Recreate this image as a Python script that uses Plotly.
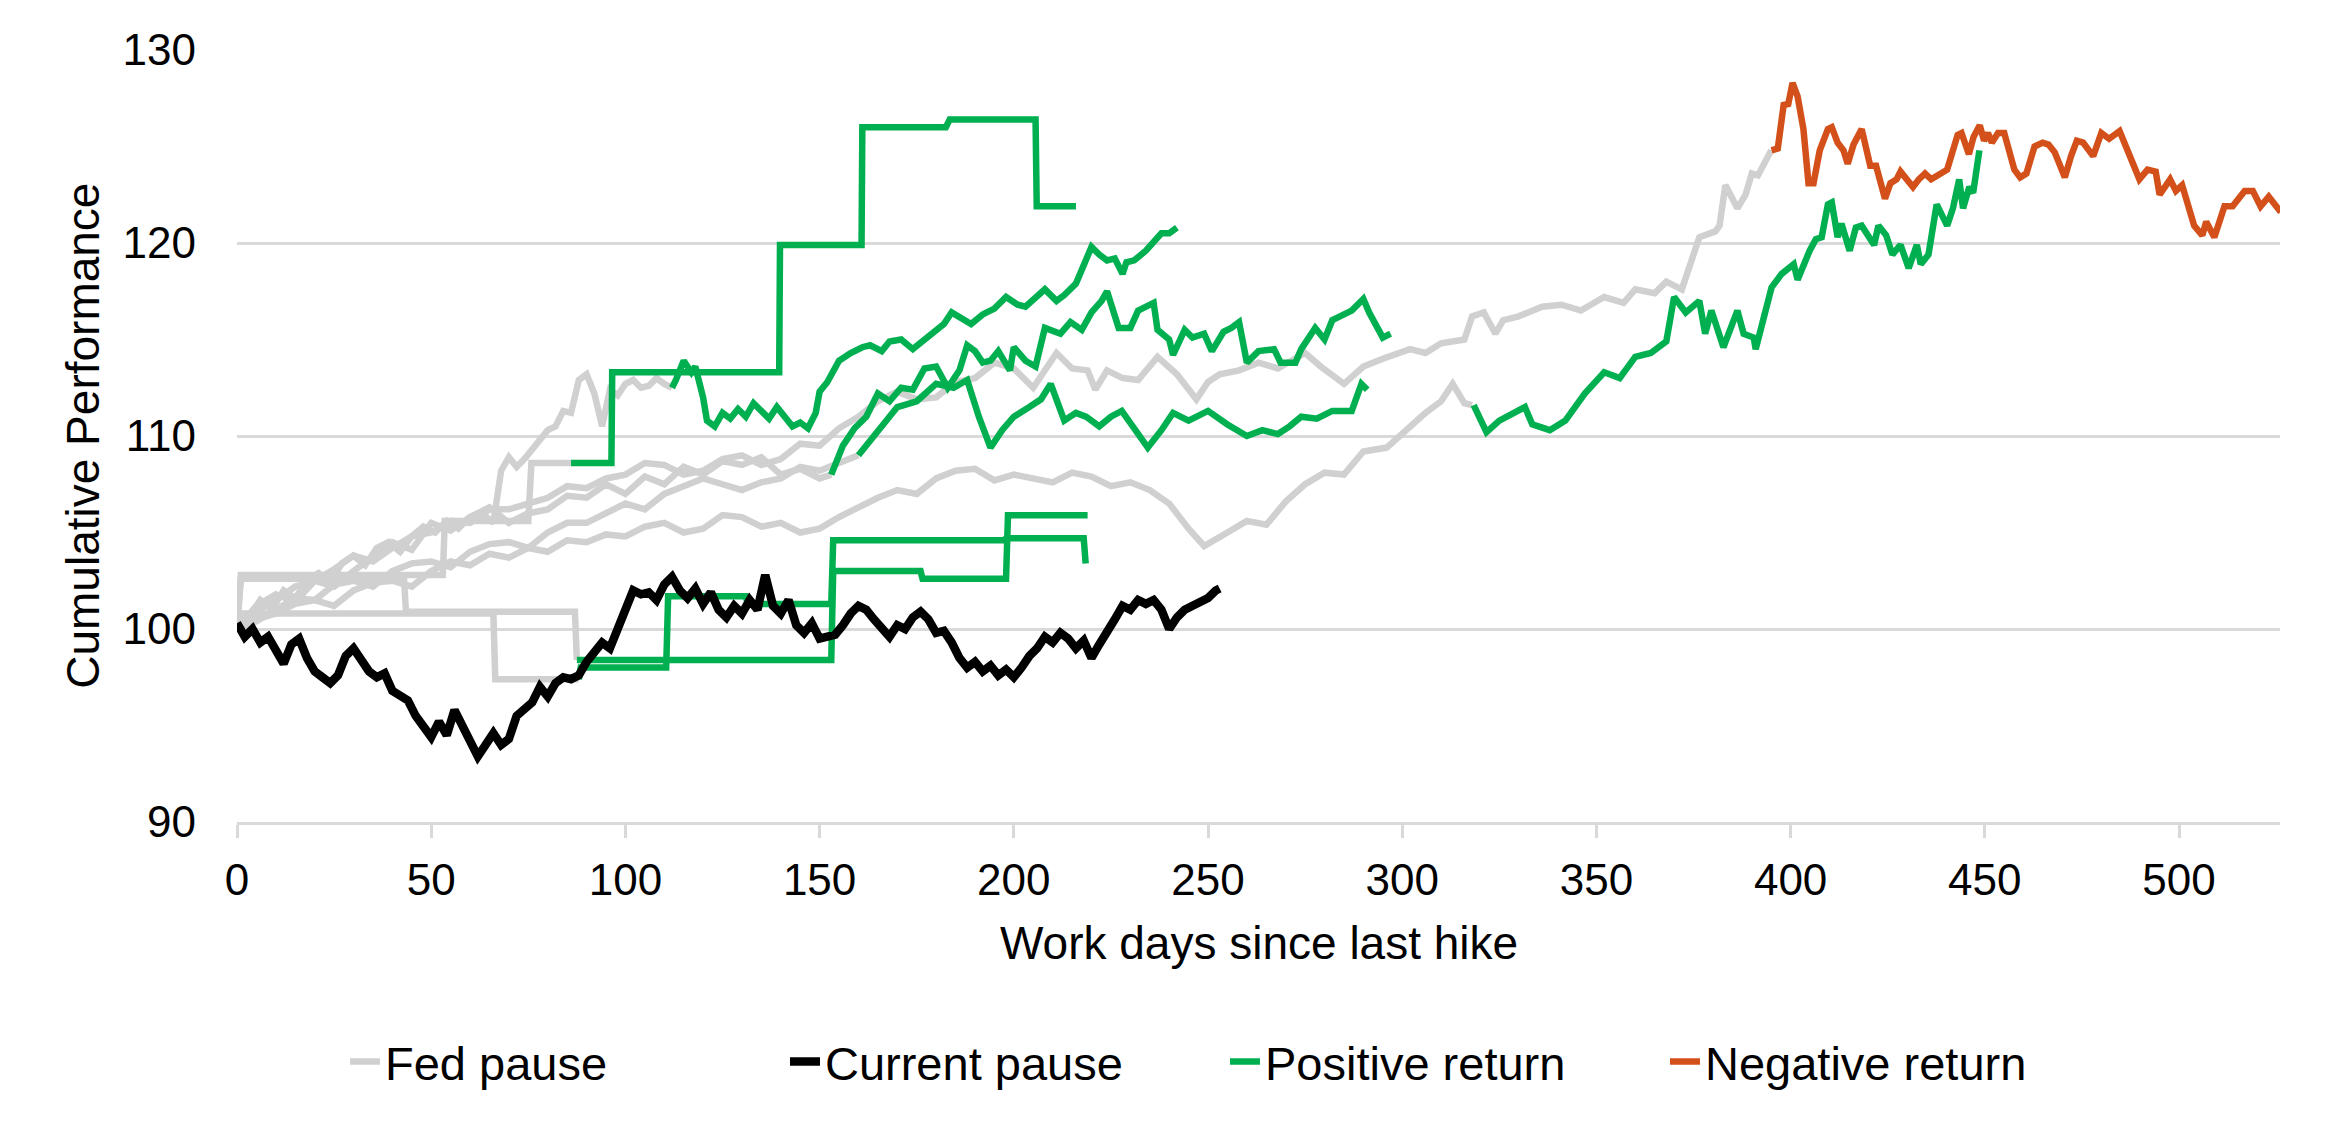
import plotly.graph_objects as go

# ---------------- data ----------------
# Current pause (black)
cur_x = [0,2,4,6,8,10,12,14,16,18,20,22,24,26,28,30,32,34,36,38,40,42,44,46,48,50,52,54,56,58,60,62,64,66,68,70,72,74,76,78,80,82,84,86,88,90,92,94,96,98,100,102,104,106,108,110,112,114,116,118,120,122,124,126,128,130,132,134,136,138,140,142,144,146,148,150,152,154,156,158,160,162,164,166,168,170,172,174,176,178,180,182,184,186,188,190,192,194,196,198,200,202,204,206,208,210,212,214,216,218,220,222,224,226,228,230,232,234,236,238,240,242,244,246,248,250,252,253]
cur_y = [100.3,99.6,100.0,99.3,99.6,98.8,98.2,99.2,99.5,98.5,97.8,97.5,97.2,97.6,98.6,99.0,98.3,97.8,97.5,97.7,96.8,96.5,96.3,95.5,95.0,94.4,95.2,94.5,95.8,95.0,94.3,93.4,94.0,94.6,94.0,94.3,95.5,95.8,96.2,97.0,96.5,97.2,97.5,97.4,97.6,98.3,98.8,99.3,99.0,100.0,100.8,102.0,101.8,101.9,101.5,102.3,102.7,102.0,101.6,102.1,101.3,101.9,101.0,100.6,101.2,100.8,101.5,101.0,102.8,101.2,100.8,101.5,100.2,99.8,100.3,99.5,99.6,99.7,100.2,100.8,101.2,101.0,100.5,100.0,99.6,100.2,100.0,100.6,100.9,100.5,99.8,99.9,99.3,98.5,98.0,98.3,97.8,98.1,97.6,97.9,97.5,98.0,98.6,99.0,99.6,99.3,99.8,99.5,99.0,99.4,98.5,99.2,99.8,100.5,101.2,101.0,101.5,101.3,101.5,101.0,100.0,100.6,101.0,101.2,101.4,101.6,102.0,102.1]

# Fed pause (grey) segments
g1_x = [0,1,53,53.5,75,75.8,86]
g1_y = [100,102.8,102.8,105.6,105.6,108.6,108.6]

g2_x = [0,3,6,9,12,15,18,21,24,27,30,33,36,39,42,45,48,51,54,57,60,63,66,68,70,72,74,77,80,82,84,86,88,90,92,94,96,98,100,102,104,106,108,110,112]
g2_y = [100,100.6,101.5,101.0,102.0,101.6,102.5,102.9,102.4,103.4,103.8,103.3,104.2,104.5,104.0,104.8,105.3,105.0,105.6,105.2,105.8,106.0,105.5,108.2,108.9,108.4,108.8,109.5,110.3,110.5,111.3,111.2,112.9,113.2,112.2,110.5,112.4,112.1,112.7,112.9,112.5,112.6,113.0,112.7,112.5]

g3_x = [0,5,10,15,20,25,30,35,40,45,50,55,60,65,70,75,80,85,90,95,100,105,110,115,120,125,130,135,140,145,150,153]
g3_y = [100,101.2,101.8,101.4,102.5,102.2,103.0,103.8,104.5,104.1,105.5,105.1,105.8,106.3,105.5,106.0,106.2,106.9,106.8,107.5,107.0,107.9,107.5,108.4,108.0,108.7,108.5,108.9,108.0,108.3,107.8,108.0]

g4_x = [0,5,10,15,20,25,30,35,40,45,50,55,60,65,70,75,80,85,90,95,100,105,110,115,120,125,130,135,140,145,150,155,160,165,170,175,180,185,190,195,200,205,210,215,220,225,230,235,240,245,249,255,260,265,270,275,280,285,290,296,301,306,310,313,316,318]
g4_y = [100,100.5,100.8,101.3,101.5,101.2,102.0,102.4,102.5,102.2,103.0,103.5,103.3,103.9,103.7,104.2,104.0,104.6,104.5,104.9,104.8,105.3,105.5,105.0,105.2,105.9,105.8,105.3,105.5,105.0,105.2,105.8,106.3,106.8,107.2,107.0,107.8,108.2,108.3,107.7,108.0,107.8,107.6,108.1,107.9,107.4,107.6,107.2,106.5,105.2,104.3,105.0,105.6,105.4,106.6,107.5,108.1,108.0,109.2,109.4,110.3,111.2,111.8,112.7,111.7,111.6]

g5_x = [0,5,10,15,20,25,30,35,40,45,50,55,60,65,70,75,80,85,90,95,100,105,110,115,120,125,130,135,140,145,150,155,160,165,170,175,180,185,190,195,200,205,208,211,215,219,221,224,228,232,237,242,247,250,253,258,263,268,275,279,285,290,295,302,306,310,316,318,321,324,326,330,336,341,346,352,357,360,365,368,372,374,376.5,380.6,381.7,383.2,384.5,386.3,388.4,390,391.6,393.6,395]
g5_y = [100,100.9,101.5,102.2,102.5,103.1,103.8,103.5,104.2,104.8,105.0,105.6,105.5,106.2,106.2,106.5,106.8,107.4,107.3,107.8,108.0,108.6,108.5,108.0,108.2,108.8,109.0,108.5,108.8,109.6,109.5,110.4,111.0,111.8,112.3,111.9,112.0,112.8,113.0,113.8,113.5,112.5,113.4,114.3,113.5,113.4,112.4,113.4,113.0,112.9,114.1,113.2,111.9,112.8,113.2,113.4,113.8,113.5,114.3,113.6,112.7,113.6,114.0,114.5,114.3,114.8,115.0,116.2,116.4,115.3,116.0,116.2,116.7,116.8,116.5,117.2,116.9,117.6,117.4,118.0,117.6,118.8,120.3,120.6,120.9,123.0,122.5,121.8,122.5,123.6,123.5,124.3,124.8]

g6_x = [0,5,10,15,20,25,30,35,40,45,50,55,60,65,70,75,80,85,90,95,100,105,110,115,120,125,130,135,140,145,150,155,160]
g6_y = [100,100.4,101.0,101.6,101.5,102.3,102.5,102.2,103.0,103.4,103.5,103.2,104.0,104.4,104.5,104.2,105.0,105.5,105.5,106.0,106.5,106.2,107.0,107.4,107.8,107.5,107.2,107.6,107.8,108.4,108.2,108.6,109.0]

st1_x = [0,1,66,66.5,88]
st1_y = [100,100.8,100.8,97.4,97.4]

st2_x = [0,1,43,43.5,87,87.5]
st2_y = [100,102.6,102.6,100.9,100.9,98.4]

# Positive return (green) segments
p1_x = [86,96.4,96.6,139.6,139.8,160.8,161,182.5,183.5,205.6,205.9,216]
p1_y = [108.6,108.6,113.3,113.3,119.9,119.9,126.0,126.0,126.4,126.4,121.9,121.9]

p2_x = [112,113,115,117,118,120,121,123,125,127,129,131,133,135,137,139,141,143,145,147,149,150,152,155,158,161,163,166,168,171,174,177,179,182,184,187,189,192,195,198,201,203,206,208,211,213,216,218,220,222,224,226,228,229,231,234,236,238,240,242]
p2_y = [112.5,112.9,113.9,113.3,113.6,112.0,110.8,110.5,111.2,110.9,111.4,111.0,111.7,111.3,110.9,111.5,111.0,110.5,110.7,110.4,111.2,112.3,112.8,113.9,114.3,114.6,114.7,114.4,114.9,115.0,114.5,115.0,115.3,115.8,116.4,116.0,115.8,116.3,116.6,117.2,116.8,116.7,117.3,117.6,117.0,117.3,117.9,118.8,119.8,119.4,119.1,119.2,118.4,119.0,119.1,119.6,120.0,120.5,120.5,120.8]

p3_x = [153,156,159,162,165,168,171,174,177,180,183,186,188,190,192,194,196,199,200,203,205.6,208,212,214.6,217.5,220,222.6,224,227,230,232,234.5,236,237,240,241,244,246,249,251,254,256,258,260,263,267,268.7,272.5,274,277.6,280,282,284,287,290,291.5,295,297]
p3_y = [108.0,109.5,110.4,111.0,112.2,111.8,112.5,112.4,113.5,113.6,112.5,113.4,114.7,114.4,113.8,113.9,114.4,113.4,114.6,113.9,113.6,115.6,115.3,115.9,115.5,116.4,117.0,117.5,115.6,115.6,116.5,116.7,116.9,115.5,115.0,114.2,115.5,115.1,115.3,114.4,115.4,115.6,115.9,113.8,114.4,114.5,113.8,113.8,114.5,115.6,115.0,116.0,116.2,116.5,117.1,116.4,115.1,115.3]

p4_x = [160,165,170,175,180,184.5,188,191,194,197,200,204,207,209.5,213,216,218.6,222,225,227.8,231,234.5,238,241,245,250,255,260,264,268,271,274,278,282,287,289.5,291]
p4_y = [109.0,110.3,111.5,111.8,112.7,112.5,112.9,111.0,109.4,110.3,111.0,111.5,111.9,112.7,110.8,111.2,111.0,110.5,111.0,111.3,110.4,109.4,110.3,111.2,110.8,111.3,110.6,110.0,110.3,110.1,110.5,111.0,110.9,111.3,111.3,112.7,112.4]

p5_x = [318.4,321.7,325,329,331.6,333.5,338,342,347,352,356,360,364,368,370,373,376.5,378,379.6,382.7,386.3,387.9,390.5,391,393.6,395.1,397.7,399.8,400.8,401.8,403.3,404.9,406.5,408,409.6,410.6,412.1,413.1,415.2,416.8,418.3,421.5,422.6,424.6,426.2,428.3,430.4,432.5,433.5,435.5,437.6,440.3,441.8,443.4,444.4,446,447,448.6]
p5_y = [111.6,110.2,110.8,111.2,111.5,110.6,110.3,110.8,112.2,113.3,113.0,114.1,114.3,114.9,117.2,116.4,117.0,115.3,116.5,114.6,116.5,115.3,115.1,114.5,116.5,117.7,118.4,118.7,118.9,118.1,118.9,119.6,120.2,120.3,122.0,122.1,120.3,121.0,119.6,120.8,120.9,119.9,120.9,120.4,119.4,119.9,118.7,119.9,118.9,119.4,122.0,120.9,121.8,123.3,121.8,122.9,122.6,124.8]

p6_x = [88,88.5,110.5,111,131,131.5,153,153.5,197.5,198,218,218.5]
p6_y = [97.4,98.0,98.0,101.7,101.7,101.3,101.3,104.6,104.6,104.7,104.7,103.4]

p7_x = [87.5,153,153.5,176,176.5,198,198.5,219]
p7_y = [98.4,98.4,103.0,103.0,102.6,102.6,105.9,105.9]

# Negative return (orange)
n1_x = [395.1,396.7,398.2,399.4,400.5,401.8,403.3,404.6,405.9,407.5,409.6,410.6,412.1,413.6,414.7,416.2,418.3,420.5,422,423.1,424.3,425.7,427.3,428.3,430,431.5,433,434.6,436.2,438.7,440.3,443,444,445.9,447.1,448.7,449.8,450.8,451.8,453.4,455,457.6,459.1,460.7,462.8,464.9,466.4,468,469,470.6,472.2,473.7,475.3,477.9,480,482,484.7,486.8,489.8,491.9,494,495,497.7,499.2,500.8,503.9,506,507,509.1,511.7,513.8,516.9,519,521,523.1,526.2]
n1_y = [124.8,124.9,127.15,127.2,128.3,127.6,125.9,123.1,123.1,124.8,125.9,126.0,125.2,124.8,124.1,125.1,125.9,124.0,124.0,123.3,122.3,123.1,123.3,123.7,123.3,122.9,123.3,123.6,123.3,123.6,123.8,125.6,125.7,124.6,125.5,126.1,125.3,125.7,125.2,125.7,125.7,123.8,123.4,123.6,125.0,125.2,125.1,124.7,124.2,123.4,124.5,125.3,125.2,124.5,125.7,125.4,125.8,124.7,123.3,123.8,123.7,122.5,123.3,122.7,123.0,120.9,120.4,121.1,120.3,121.9,121.9,122.7,122.7,121.9,122.4,121.6]

x_ticks = [0,50,100,150,200,250,300,350,400,450,500]
y_ticks = [90,100,110,120,130]

GREY = "#d0d0d0"
GREEN = "#00b050"
ORANGE = "#d4501a"
BLACK = "#000000"

fig = go.Figure()

def add(x, y, color, width, name, group, show, rank):
    fig.add_trace(go.Scatter(
        x=x, y=y, mode="lines", name=name, legendgroup=group,
        showlegend=show, legendrank=rank,
        line=dict(color=color, width=width), hoverinfo="skip"))

greys = [(g1_x, g1_y), (g2_x, g2_y), (g3_x, g3_y), (g4_x, g4_y), (g5_x, g5_y), (g6_x, g6_y), (st1_x, st1_y), (st2_x, st2_y)]
for i, (x, y) in enumerate(greys):
    add(x, y, GREY, 6.5, "Fed pause", "fed", i == 0, 1)

greens = [(p1_x, p1_y), (p2_x, p2_y), (p3_x, p3_y), (p4_x, p4_y), (p5_x, p5_y), (p6_x, p6_y), (p7_x, p7_y)]
for i, (x, y) in enumerate(greens):
    add(x, y, GREEN, 6.5, "Positive return", "pos", i == 0, 3)

add(n1_x, n1_y, ORANGE, 6.5, "Negative return", "neg", True, 4)
add(cur_x, cur_y, BLACK, 8.5, "Current pause", "cur", True, 2)

FONT = "Liberation Sans, Arial, sans-serif"

fig.update_layout(
    width=2331, height=1131,
    margin=dict(l=237, r=51, t=50, b=309, autoexpand=False),
    paper_bgcolor="white", plot_bgcolor="white",
    font=dict(family=FONT, size=44, color="black"),
    showlegend=True,
    legend=dict(orientation="h", xref="container", yref="container",
                x=0.148, xanchor="left", y=0.061, yanchor="middle",
                font=dict(size=47, family=FONT, color="black"),
                traceorder="normal", entrywidth=395, entrywidthmode="pixels",
                bgcolor="rgba(0,0,0,0)"),
    xaxis=dict(range=[0, 526], tickvals=x_ticks, ticktext=[str(v) for v in x_ticks],
               showgrid=False, zeroline=False,
               showline=True, linecolor="#d9d9d9", linewidth=3,
               ticks="outside", ticklen=13, tickwidth=3, tickcolor="#d9d9d9",
               tickfont=dict(size=44, family=FONT), ticklabelstandoff=4),
    yaxis=dict(range=[90, 130], tickvals=y_ticks, ticktext=[str(v) for v in y_ticks],
               showgrid=True, gridcolor="#d9d9d9", gridwidth=3,
               zeroline=False, showline=False, ticks="",
               tickfont=dict(size=44, family=FONT), ticklabelstandoff=40),
    annotations=[
        dict(text="Work days since last hike", xref="paper", yref="paper",
             x=0.5, y=-0.157, xanchor="center", yanchor="middle", showarrow=False,
             font=dict(size=46, family=FONT)),
        dict(text="Cumulative Performance", xref="paper", yref="paper",
             x=-0.0755, y=0.5, xanchor="center", yanchor="middle", showarrow=False,
             textangle=-90, font=dict(size=46, family=FONT)),
    ],
)

fig.write_html("out.html", config={"displayModeBar": False},
               post_script="document.body.style.margin='0px';")
